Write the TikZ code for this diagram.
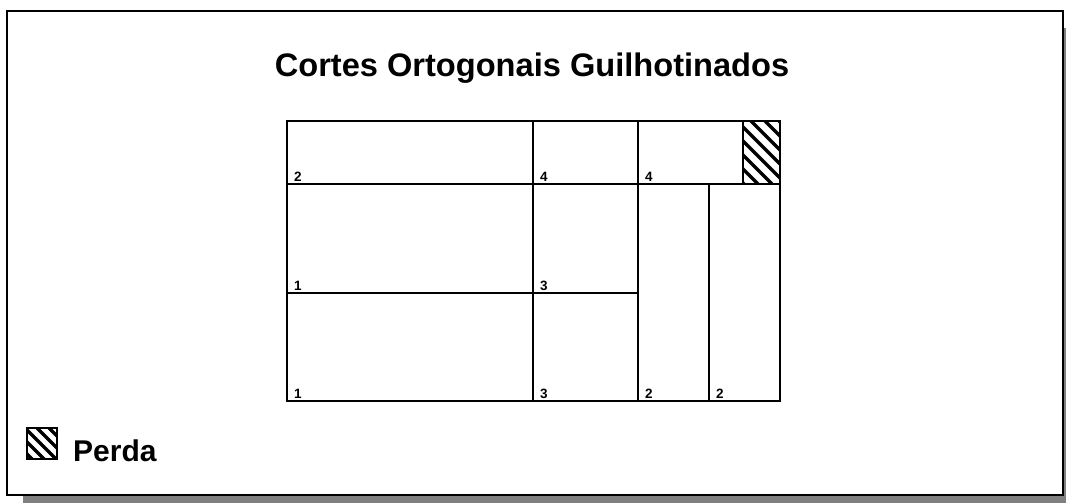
\documentclass[tikz,border=0pt]{standalone}
\usepackage{fontspec}
\setmainfont{Liberation Sans}
\begin{document}
\begin{tikzpicture}[x=1pt,y=-1pt,
  cell/.style={draw=black,line width=1.6pt},
  num/.style={anchor=base west,inner sep=0pt,font=\fontsize{13.5}{15}\selectfont\bfseries},
  hatch/.style={line width=3.4pt,black}]
\path[use as bounding box,clip] (0,0) rectangle (1066,503);
% shadow
\fill[black!50] (23,28) rectangle (1090,520);
% frame
\draw[fill=white,line width=2pt] (7,11) rectangle (1063,495);
% title
\node[anchor=base,inner sep=0pt,font=\fontsize{32.6}{38}\selectfont\bfseries] (title) at (532,77) {Cortes Ortogonais Guilhotinados};
% cells
\draw[cell] (287,121) rectangle (533,184);
\draw[cell] (533,121) rectangle (638,184);
\draw[cell] (638,121) rectangle (743,184);
\draw[cell] (287,184) rectangle (533,293);
\draw[cell] (533,184) rectangle (638,293);
\draw[cell] (287,293) rectangle (533,401);
\draw[cell] (533,293) rectangle (638,401);
\draw[cell] (638,184) rectangle (709,401);
\draw[cell] (709,184) rectangle (780,401);
% waste
\begin{scope}
\clip (743,121) rectangle (780,184);
\foreach \k in {-62,-48,...,40} \draw[hatch] (743+\k,121) -- (743+\k+80,201);
\end{scope}
\draw[cell] (743,121) rectangle (780,184);
% labels
\node[num] (a) at (294,181) {2};
\node[num] (b) at (540,181) {4};
\node[num] (c) at (645,181) {4};
\node[num] (d) at (294,290) {1};
\node[num] (e) at (540,290) {3};
\node[num] (f) at (294,398) {1};
\node[num] (g) at (540,398) {3};
\node[num] (h) at (645,398) {2};
\node[num] (i) at (716,398) {2};
% legend
\begin{scope}
\clip (27,428) rectangle (57,459);
\foreach \k in {-50,-38,...,30} \draw[hatch] (27+\k,428) -- (27+\k+50,478);
\end{scope}
\draw[line width=1.6pt] (27,428) rectangle (57,459);
\node[anchor=base west,inner sep=0pt,font=\fontsize{30}{36}\selectfont\bfseries] (perda) at (73,461) {Perda};
\end{tikzpicture}
\end{document}
